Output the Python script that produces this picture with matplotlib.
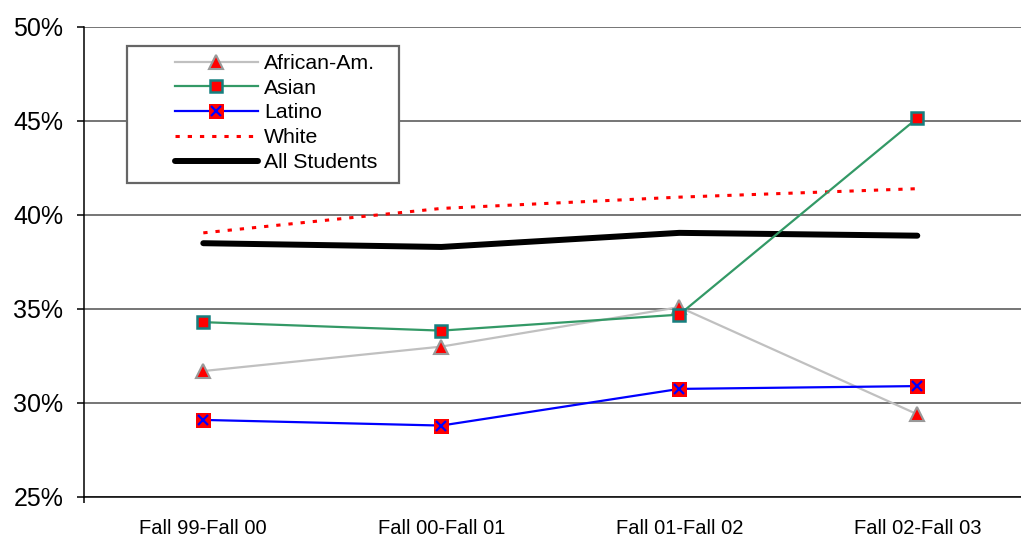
import matplotlib
matplotlib.use("Agg")
import matplotlib.pyplot as plt
from matplotlib.ticker import FuncFormatter
from matplotlib.legend_handler import HandlerTuple
from matplotlib.patches import Rectangle

plt.rcParams['font.family'] = ['Liberation Sans', 'DejaVu Sans']

periods = ["Fall 99-Fall 00", "Fall 00-Fall 01", "Fall 01-Fall 02", "Fall 02-Fall 03"]
african_am = [31.7, 33.0, 35.1, 29.4]
asian = [34.3, 33.85, 34.7, 45.15]
latino = [29.1, 28.8, 30.75, 30.9]
white = [39.05, 40.35, 40.95, 41.4]
all_students = [38.5, 38.3, 39.05, 38.9]
yticks = [25, 30, 35, 40, 45, 50]

W, H = 1021, 539
fig = plt.figure(figsize=(W / 100, H / 100), dpi=100)
ax = fig.add_axes([84.3 / W, 42 / H, 952 / W, 470 / H])

x = list(range(len(periods)))

h_wh, = ax.plot(x, white, color='#ff0000', lw=2.2, dashes=(1.4, 2.6), zorder=3)
h_all, = ax.plot(x, all_students, color='black', lw=4.3, solid_capstyle='round', zorder=3)

h_af, = ax.plot(x, african_am, color='#c0c0c0', lw=1.6, marker='^', ms=10.5,
                mfc='#ff0000', mec='#999999', mew=1.5, zorder=4)
h_as, = ax.plot(x, asian, color='#339966', lw=1.6, marker='s', ms=8,
                mfc='#ff0000', mec='#168080', mew=1.8, zorder=4)
h_la, = ax.plot(x, latino, color='#0000ff', lw=1.6, marker='s', ms=10.8,
                mfc='#ff0000', mec='#ff0000', mew=0, zorder=4)
h_lx, = ax.plot(x, latino, ls='none', marker='x', ms=7.5, mec='#0000ff', mew=1.6, zorder=5)

ax.set_xlim(-0.5, 3.5)
ax.set_ylim(25, 50)
ax.set_yticks(yticks)
ax.yaxis.set_major_formatter(FuncFormatter(lambda v, p: f"{v:.0f}%"))
ax.set_xticks(x)
ax.set_xticklabels(periods)
ax.set_xticks([-0.5], minor=True)

ax.grid(axis='y', color='#505050', lw=1.1)
ax.set_axisbelow(True)
for s in ['top', 'right']:
    ax.spines[s].set_visible(False)
for s in ['left', 'bottom']:
    ax.spines[s].set_color('black')
    ax.spines[s].set_linewidth(1.1)

ax.tick_params(axis='y', direction='out', length=5, width=1.1, labelsize=18, pad=10)
ax.tick_params(axis='x', which='major', length=0, labelsize=14.5, pad=15.5)
ax.tick_params(axis='x', which='minor', direction='out', length=4, width=1.1)

# legend frame drawn separately (wide left margin like the original)
frame = Rectangle((127 / W, 1 - 183 / H), (399 - 127) / W, (183 - 46) / H,
                  transform=fig.transFigure, facecolor='white', edgecolor='#666666',
                  lw=1.6, zorder=9)
fig.patches.append(frame)

handles = [h_af, h_as, (h_la, h_lx), h_wh, h_all]
labels = ['African-Am.', 'Asian', 'Latino', 'White', 'All Students']
leg = fig.legend(handles, labels, loc='upper left', bbox_to_anchor=(175 / W, 1 - 54 / H),
                 fontsize=15.3, frameon=False, handlelength=3.9, handletextpad=0.28,
                 labelspacing=0.27, borderpad=0, borderaxespad=0,
                 handler_map={tuple: HandlerTuple(ndivide=1)})
leg.set_zorder(10)

fig.savefig("out.png", dpi=100)
